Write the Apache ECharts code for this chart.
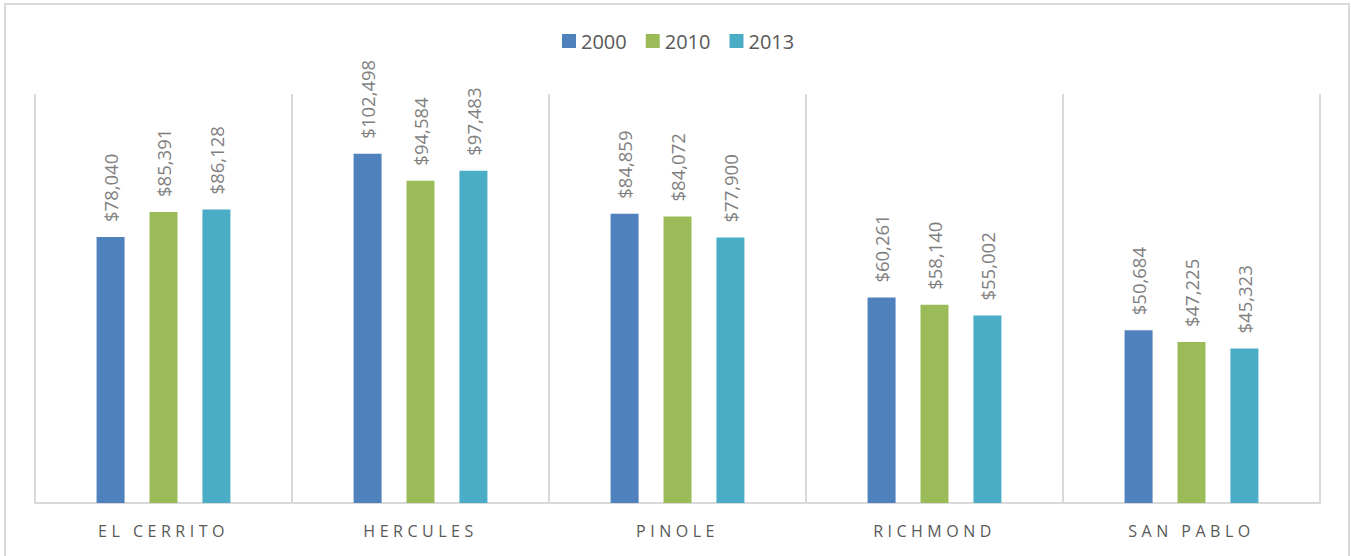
<!DOCTYPE html>
<html>
<head>
<meta charset="utf-8">
<script src="https://cdn.jsdelivr.net/npm/echarts@6/dist/echarts.min.js"></script>
<style>
html,body{margin:0;padding:0;background:#fff;}
#chart{width:1351px;height:556px;}
#chart text[fill="#595958"]{letter-spacing:4.5px;}
</style>
</head>
<body>
<div id="chart"></div>
<script>
const categories = ['EL CERRITO', 'HERCULES', 'PINOLE', 'RICHMOND', 'SAN PABLO'];
const seriesNames = ['2000', '2010', '2013'];
const values2000 = [78040, 102498, 84859, 60261, 50684];
const values2010 = [85391, 94584, 84072, 58140, 47225];
const values2013 = [86128, 97483, 77900, 55002, 45323];
const colors = ['#4f81bd', '#9bbb59', '#4bacc6'];

const chart = echarts.init(document.getElementById('chart'), null, {renderer: 'svg'});

function fmt(v) {
  return '$' + v.toString().replace(/\B(?=(\d{3})+(?!\d))/g, ',');
}

const allValues = [values2000, values2010, values2013];
const series = seriesNames.map((name, i) => ({
  name: name,
  type: 'bar',
  data: allValues[i],
  barWidth: 28,
  barGap: '89%',
  itemStyle: {color: colors[i]},
  label: {
    show: true,
    position: 'top',
    rotate: 90,
    align: 'left',
    verticalAlign: 'middle',
    distance: 15,
    color: '#7f7f7f',
    fontSize: 18.5,
    fontFamily: 'Open Sans',
    formatter: p => fmt(p.value)
  }
}));

chart.setOption({
  animation: false,
  color: colors,
  graphic: [{
    type: 'rect',
    shape: {x: 5, y: 4, width: 1344, height: 560},
    style: {fill: 'none', stroke: '#d9d9d9', lineWidth: 2},
    silent: true,
    z: -1
  }],
  legend: {
    data: seriesNames,
    left: 557,
    top: 26,
    itemWidth: 14,
    itemHeight: 14,
    itemGap: 19,
    icon: 'rect',
    textStyle: {fontSize: 20, color: '#595959', fontFamily: 'Open Sans'}
  },
  grid: {left: 35, right: 31, top: 94, bottom: 53},
  xAxis: {
    type: 'category',
    data: categories,
    axisLine: {lineStyle: {color: '#d9d9d9', width: 2}},
    axisTick: {show: false},
    splitLine: {show: true, lineStyle: {color: '#d9d9d9', width: 2}},
    axisLabel: {
      fontSize: 16,
      color: '#595958',
      fontFamily: 'Open Sans',
      margin: 20
    }
  },
  yAxis: {
    type: 'value',
    min: 0,
    max: 120000,
    show: false,
    splitLine: {show: false}
  },
  series: series
});
</script>
</body>
</html>
